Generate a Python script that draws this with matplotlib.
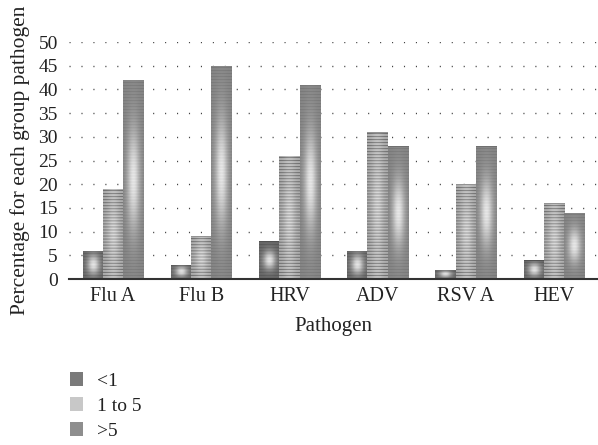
import numpy as np
import matplotlib.pyplot as plt
from matplotlib.patches import Patch

# Data
pathogens = ['Flu A', 'Flu B', 'HRV', 'ADV', 'RSV A', 'HEV']
under_1 = [6, 3, 8, 6, 2, 4]
one_to_5 = [19, 9, 26, 31, 20, 16]
over_5 = [42, 45, 41, 28, 28, 14]
series_names = ['<1', '1 to 5', '>5']

plt.rcParams['font.family'] = ['Liberation Serif', 'DejaVu Serif']

fig = plt.figure(figsize=(5.98, 4.45), dpi=100)
ax = fig.add_axes([0.1154, 0.373, 0.8846, 0.5326])

# (edge grey, centre grey, stripe depth, glow strength)
styles = [
    (0.40, 0.90, 0.06, 1.0),
    (0.66, 0.95, 0.24, 0.35),
    (0.52, 0.92, 0.05, 0.95),
]
legend_colors = ['#7a7a7a', '#c8c8c8', '#8e8e8e']


def shade_bar(bar, edge, centre, stripe, glow):
    # fill one bar with a grey glow + horizontal stripe texture
    x0, w, h = bar.get_x(), bar.get_width(), bar.get_height()
    ny = max(int(h * 4.74), 3)
    nx = 24
    yy = np.linspace(-1, 1, ny)[:, None]
    xx = np.linspace(-1, 1, nx)[None, :]
    sy = 0.25 if h > 6 else 0.5
    g = np.exp(-(xx ** 2) / 0.4) * (glow * np.exp(-(yy ** 2) / sy) + (1 - glow) * 0.5)
    img = edge + (centre - edge) * g
    rows = np.arange(ny)[:, None]
    img = img - stripe * ((rows % 3) == 0)
    img[-1, :] = edge - 0.08
    img = np.clip(img, 0, 1)
    im = ax.imshow(img, cmap='gray', vmin=0, vmax=1, extent=(x0, x0 + w, 0, h),
                   origin='lower', aspect='auto', interpolation='bilinear', zorder=2)
    im.set_clip_path(bar)


x = np.arange(len(pathogens))
width = 0.23
for i, vals in enumerate([under_1, one_to_5, over_5]):
    bars = ax.bar(x + (i - 1) * width, vals, width, color='none', edgecolor='none', zorder=2)
    for b in bars:
        shade_bar(b, *styles[i])

ax.set_xlim(-0.5, len(pathogens) - 0.5)
ax.set_ylim(0, 50)
ax.set_yticks(range(0, 51, 5))
ax.set_xticks(x)
ax.set_xticklabels(pathogens, fontsize=14.5)
ax.tick_params(axis='y', labelsize=14, pad=8)
ax.tick_params(axis='x', pad=6)
ax.tick_params(length=0, colors='#222222')

ax.yaxis.grid(True, linestyle=(0, (0.8, 7.8)), linewidth=1.0, color='#444444')
ax.set_axisbelow(True)
for s in ['left', 'right', 'top']:
    ax.spines[s].set_visible(False)
ax.spines['bottom'].set_color('#333333')
ax.spines['bottom'].set_linewidth(1.5)
ax.spines['bottom'].set_zorder(3)

ax.set_xlabel('Pathogen', fontsize=15, color='#222222', labelpad=8)
ax.set_ylabel('Percentage for each group pathogen', fontsize=15.5, color='#222222', labelpad=6)

handles = [Patch(facecolor=c, edgecolor='none') for c in legend_colors]
fig.legend(handles, series_names, loc='upper left', bbox_to_anchor=(0.117, 0.163),
           frameon=False, fontsize=14, handlelength=0.68, handleheight=0.68,
           handletextpad=0.7, labelspacing=0.38, borderpad=0, borderaxespad=0,
           labelcolor='#222222')

fig.savefig('out.png', dpi=100)
